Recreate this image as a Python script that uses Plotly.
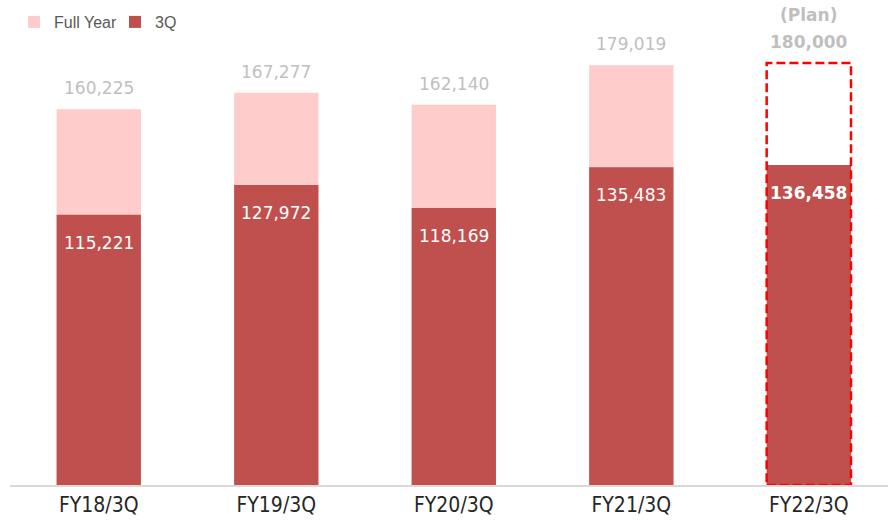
import plotly.graph_objects as go

categories = ["FY18/3Q", "FY19/3Q", "FY20/3Q", "FY21/3Q", "FY22/3Q"]
full_year = [160225, 167277, 162140, 179019, 180000]
q3 = [115221, 127972, 118169, 135483, 136458]
is_plan = [False, False, False, False, True]

PINK = "#FFCCCC"
RED = "#C0504D"
GRAY = "#BFBFBF"
BAR_W = 0.475
FONT = "DejaVu Sans"

fig = go.Figure()
fig.add_trace(go.Bar(
    x=categories, y=full_year, name="Full Year", width=BAR_W,
    marker=dict(color=[("rgba(255,255,255,0)" if p else PINK) for p in is_plan],
                line=dict(width=0)),
    hoverinfo="skip",
))
fig.add_trace(go.Bar(
    x=categories, y=q3, name="3Q", width=BAR_W,
    marker=dict(color=RED, line=dict(width=0)),
    hoverinfo="skip",
))

def fmt(v):
    return f"{v:,}"

anns = []
for i, (c, fy, q, p) in enumerate(zip(categories, full_year, q3, is_plan)):
    if p:
        anns.append(dict(x=c, y=fy, text="<b>" + fmt(fy) + "</b>", showarrow=False,
                         yanchor="middle", yshift=21,
                         font=dict(family=FONT, size=17, color=GRAY)))
        anns.append(dict(x=c, y=fy, text="<b>(Plan)</b>", showarrow=False,
                         yanchor="middle", yshift=48,
                         font=dict(family=FONT, size=17, color=GRAY)))
        anns.append(dict(x=c, y=q, text="<b>" + fmt(q) + "</b>", showarrow=False,
                         yanchor="middle", yshift=-28,
                         font=dict(family=FONT, size=17, color="white")))
    else:
        anns.append(dict(x=c, y=fy, text=fmt(fy), showarrow=False,
                         yanchor="middle", yshift=21,
                         font=dict(family=FONT, size=17, color=GRAY)))
        anns.append(dict(x=c, y=q, text=fmt(q), showarrow=False,
                         yanchor="middle", yshift=-28,
                         font=dict(family=FONT, size=17, color="white")))

shapes = []
for i, p in enumerate(is_plan):
    if p:
        shapes.append(dict(type="rect", xref="x", yref="y",
                           x0=i - BAR_W / 2, x1=i + BAR_W / 2, y0=0, y1=full_year[i],
                           line=dict(color="#FF0000", width=2.5, dash="9px,4px"),
                           fillcolor="rgba(0,0,0,0)", layer="above"))

fig.update_layout(
    width=888, height=526,
    margin=dict(l=10, r=0, t=16, b=41, autoexpand=False),
    barmode="overlay",
    plot_bgcolor="white", paper_bgcolor="white",
    showlegend=True,
    legend=dict(orientation="h", x=4 / 878, y=1 - 6 / 469, xanchor="left", yanchor="middle",
                font=dict(family="Liberation Sans", size=16, color="#595959"),
                entrywidth=56, entrywidthmode="pixels",
                traceorder="normal", bgcolor="rgba(0,0,0,0)"),
    annotations=anns,
    shapes=shapes,
    xaxis=dict(range=[-0.5, 4.446], showline=True, linecolor="#D9D9D9", linewidth=1.5,
               tickfont=dict(family="DejaVu Sans Condensed, Liberation Sans", size=21,
                             color="#262626"),
               ticks="", showgrid=False, zeroline=False),
    yaxis=dict(range=[0, 200000], visible=False, showgrid=False, zeroline=False),
)

fig.write_html("out.html", config={"displayModeBar": False},
               post_script="document.body.style.margin='0';document.body.style.overflow='hidden';")
